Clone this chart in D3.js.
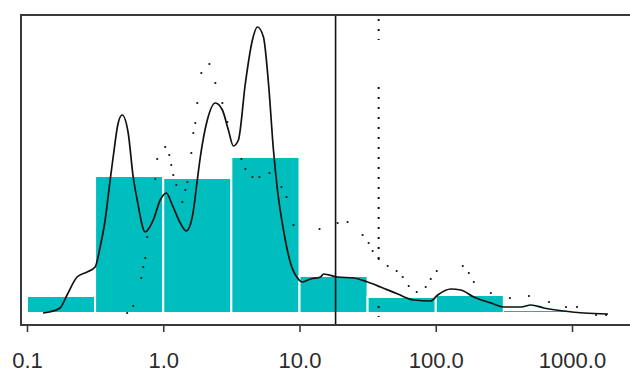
<!DOCTYPE html>
<html>
<head>
<meta charset="utf-8">
<script src="https://cdn.jsdelivr.net/npm/d3@7/dist/d3.min.js"></script>
<style>
  html, body { margin: 0; padding: 0; background: #fff; }
  svg { display: block; }
</style>
</head>
<body>
<svg id="chart" width="630" height="374"></svg>
<script>
// ---- data ----
const binEdges  = [0.1, 0.316, 1, 3.16, 10, 31.6, 100, 316, 1000];
const binValues = [3.4, 27.4, 27.0, 31.2, 7.4, 3.2, 3.6, 0.6];

const densityX = [0.1311, 0.1451, 0.1748, 0.1968, 0.2331, 0.2762, 0.3162, 0.3442, 0.3746, 0.4077,
                  0.4290, 0.4669, 0.4995, 0.5529, 0.6018, 0.6439, 0.7372, 0.8443, 0.9505, 1.052,
                  1.165, 1.334, 1.476, 1.634, 1.778, 1.871, 2.106, 2.412, 2.716, 3.006,
                  3.271, 3.561, 4.008, 4.512, 4.912, 5.437, 5.918, 6.439, 6.891, 7.628,
                  8.588, 9.667, 10.52, 12.05, 14.27, 15.02, 19.03, 24.95, 31.62, 39.41,
                  52.55, 68.91, 91.89, 103.4, 128.9, 152.7, 190.3, 253.8, 316.2, 421.7,
                  499.4, 622.6, 873.6, 1225, 1839];
const densityY = [0, 0.2, 1.0, 3.6, 7.2, 8.2, 9.2, 13.2, 18.6, 26.6,
                  31.2, 38, 39.6, 36, 27.2, 22.6, 16.2, 18.6, 22.6, 24,
                  21.6, 18, 16.4, 19.2, 26.6, 31.2, 38.6, 42, 40.6, 36.6,
                  33.4, 34.6, 46, 54.6, 57.2, 55.2, 46, 32.6, 24.6, 16.6,
                  10, 7, 6.2, 6.8, 7.2, 7.8, 7.2, 7, 6.2, 5.2,
                  3.8, 2.6, 2.4, 3.6, 4.8, 4.6, 3.2, 2, 1.2, 1.2,
                  1.6, 1.0, 0.4, 0, -0.2];

const dotX = [0.5437, 0.6018, 0.6891, 0.7129, 0.7372, 0.7628, 0.8736, 0.9035, 1.034, 1.107,
              1.145, 1.185, 1.246, 1.380, 1.451, 1.502, 1.607, 1.662, 1.719, 1.778,
              1.903, 2.179, 2.412, 2.716, 2.955, 3.746, 4.008, 4.512, 5.080, 6.018,
              7.372, 8.025, 9.035, 14.03, 19.03, 22.54, 29.06, 32.17, 34.42, 38.10,
              44.38, 51.67, 57.20, 63.33, 72.49, 84.43, 91.89, 101.7, 157.9, 174.8,
              190.3, 253.8, 350.0, 482.8, 677.5, 903.5, 1088, 1502, 1778];
const dotY = [0, 1.4, 7, 9.2, 11, 15.2, 26.8, 30.8, 33.2, 31.6,
              29.6, 27.6, 25.6, 22.2, 24.6, 26.2, 32, 36, 38, 42,
              48, 49.8, 46, 42, 38.2, 30.8, 28.8, 27.2, 27.2, 28,
              25.2, 23.2, 17.6, 16.8, 18, 18.2, 15.6, 14, 12.4, 10.8,
              9.4, 8.4, 7.2, 5.4, 4.2, 5.2, 6.8, 8.4, 9.4, 8,
              6.2, 4, 3, 3.4, 2.2, 1.2, 1.2, -0.4, -0.4];

const tickValues = [0.1, 1, 10, 100, 1000];
const tickLabels = ["0.1", "1.0", "10.0", "100.0", "1000.0"];

const solidLineX = 18.4;
const dottedLineX = 38.1;
const dottedLineSegments = [[58.8, 54.6], [45.2, 10.8], [1.4, -0.8]];

// ---- layout ----
const frameLeft = 21, frameTop = 15, axisY = 325, frameRight = 630;

const svg = d3.select("#chart");
const x = d3.scaleLog().domain([0.1, 1000]).range([27, 572]);
const y = d3.scaleLinear().domain([0, 60]).range([313, 13]);

// bars
const bins = binValues.map((v, i) => ({ x0: binEdges[i], x1: binEdges[i + 1], v }));
svg.append("g").selectAll("rect").data(bins).join("rect")
  .attr("x", d => x(d.x0))
  .attr("y", d => y(d.v))
  .attr("width", d => x(d.x1) - x(d.x0))
  .attr("height", d => y(0) - y(d.v))
  .attr("fill", "#00bebe")
  .attr("stroke", "#ffffff")
  .attr("stroke-width", 2);

// density curve
const dens = densityX.map((d, i) => [d, densityY[i]]);
svg.append("path")
  .datum(dens)
  .attr("fill", "none")
  .attr("stroke", "#111")
  .attr("stroke-width", 1.7)
  .attr("d", d3.line().x(d => x(d[0])).y(d => y(d[1])).curve(d3.curveMonotoneX));

// dotted series
const dots = dotX.map((d, i) => [d, dotY[i]]);
svg.append("g").selectAll("circle").data(dots).join("circle")
  .attr("cx", d => x(d[0]))
  .attr("cy", d => y(d[1]))
  .attr("r", 1.1)
  .attr("fill", "#111");

// vertical dotted line
svg.append("g").selectAll("line").data(dottedLineSegments).join("line")
  .attr("x1", x(dottedLineX)).attr("x2", x(dottedLineX))
  .attr("y1", d => y(d[0])).attr("y2", d => y(d[1]))
  .attr("stroke", "#111")
  .attr("stroke-width", 2)
  .attr("stroke-dasharray", "2,8");

// vertical solid line
svg.append("line")
  .attr("x1", x(solidLineX)).attr("x2", x(solidLineX))
  .attr("y1", frameTop).attr("y2", axisY)
  .attr("stroke", "#111")
  .attr("stroke-width", 1.6);

// frame
const frameColor = "#3a3a3a";
svg.append("line").attr("x1", frameLeft).attr("x2", frameRight).attr("y1", frameTop).attr("y2", frameTop)
  .attr("stroke", frameColor).attr("stroke-width", 2);
svg.append("line").attr("x1", frameLeft).attr("x2", frameLeft).attr("y1", frameTop - 1).attr("y2", axisY + 1)
  .attr("stroke", frameColor).attr("stroke-width", 2);
svg.append("line").attr("x1", frameLeft).attr("x2", frameRight).attr("y1", axisY).attr("y2", axisY)
  .attr("stroke", frameColor).attr("stroke-width", 2);

// x axis
const axis = d3.axisBottom(x)
  .tickValues(tickValues)
  .tickFormat((d, i) => tickLabels[i])
  .tickSize(7)
  .tickPadding(20);
const gx = svg.append("g").attr("transform", `translate(0,${axisY})`).call(axis);
gx.select(".domain").remove();
gx.selectAll(".tick line").attr("stroke", frameColor).attr("stroke-width", 1.6);
gx.selectAll(".tick text")
  .attr("fill", "#2a2a2a")
  .style("font-family", "'Liberation Sans', Arial, sans-serif")
  .style("font-size", "22px");
</script>
</body>
</html>
